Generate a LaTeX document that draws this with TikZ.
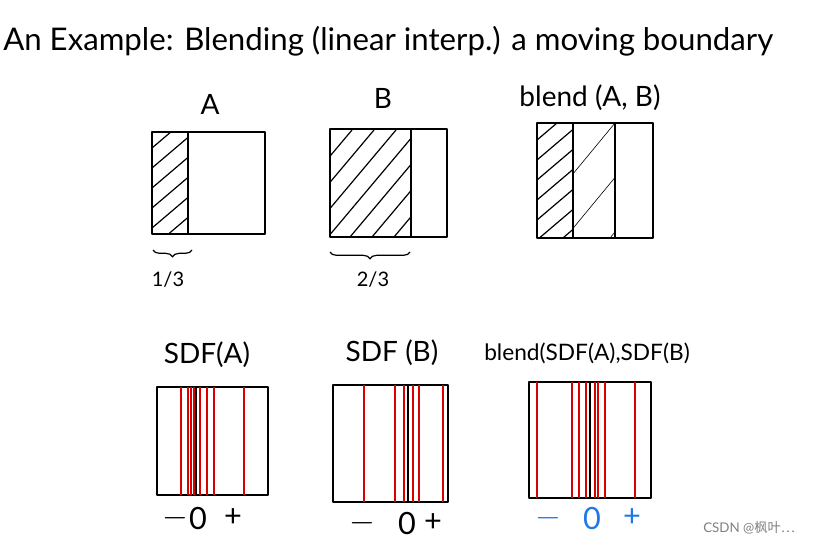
\documentclass[tikz,border=0pt]{standalone}
\usepackage{fontspec}
\setmainfont{Lato}
\newfontfamily\cjkfont{Noto Sans CJK SC}
\usetikzlibrary{positioning,decorations.pathreplacing}

\begin{document}
\begin{tikzpicture}[x=0.75pt,y=-0.75pt,
  lbl/.style={font=\fontsize{21}{24}\selectfont, inner sep=1pt},
  frac/.style={font=\fontsize{15}{17}\selectfont, inner sep=1pt},
  sgn/.style={font=\fontsize{23}{26}\selectfont, inner sep=1pt},
  frame/.style={draw=black, line width=1.5pt, line join=round},
  hatch/.style={draw=black, line width=0.9pt},
  lighthatch/.style={draw=black, line width=0.45pt},
  isoline/.style={draw=red!85!black, line width=1.1pt},
  zeroline/.style={draw=black, line width=1.4pt},
  brc/.style={decorate, decoration={brace, amplitude=5pt}, line width=0.9pt}
]
\useasboundingbox (0,0) rectangle (819,544);

\node[anchor=base west, font=\fontsize{23.4}{28}\selectfont, inner sep=0] (title) at (3,50) {An Example: Blending (linear interp.) a moving boundary};

% top row: shapes
\begin{scope}
  \clip (152,132) rectangle (188,234);
  \foreach \y in {148,168,...,268} \draw[hatch] (152,\y) -- ++(40,-34);
\end{scope}
\draw[frame] (152,132) rectangle (265,234);
\draw[frame] (188,132) -- (188,234);
\node[lbl] (labA) at (210,104) {A};
\draw[brc] (192,250) -- (153,250);
\node[frac] (thirdA) at (168,280) {1/3};

\begin{scope}
  \clip (330,129) rectangle (411,237);
  \foreach \x in {262,284,...,416} \draw[hatch] (\x,237) -- ++(90,-107);
\end{scope}
\draw[frame] (330,129) rectangle (447,237);
\draw[frame] (411,129) -- (411,237);
\node[lbl] (labB) at (383,98) {B};
\draw[brc] (410,252) -- (330,252);
\node[frac] (thirdB) at (373,280) {2/3};

\begin{scope}
  \clip (537,123) rectangle (573,238);
  \foreach \y in {140,160,...,270} \draw[hatch] (537,\y) -- ++(40,-34);
\end{scope}
\begin{scope}
  \clip (573,123) rectangle (615,238);
  \foreach \x in {520,565,610} \draw[lighthatch] (\x,238) -- ++(95,-115);
\end{scope}
\draw[frame] (537,123) rectangle (653,238);
\draw[frame] (573,123) -- (573,238);
\draw[frame] (615,123) -- (615,238);
\node[lbl] (labAB) at (590,98) {blend (A, B)};

% bottom row: distance fields
\draw[frame] (157,387) rectangle (268,495);
\foreach \x in {181,188,191,194,200,207,214,244} \draw[isoline] (\x,387) -- (\x,495);
\draw[zeroline] (196,387) -- (196,495);
\node[lbl] (labSA) at (207,355) {SDF(A)};
\node[sgn] (mA) at (175,518) {$-$};
\node[sgn] (zA) at (198,518) {0};
\node[sgn] (pA) at (233,518) {+};

\draw[frame] (333,385) rectangle (448,502);
\foreach \x in {364,395,404,413,419,443} \draw[isoline] (\x,385) -- (\x,502);
\draw[zeroline] (408,385) -- (408,502);
\node[lbl] (labSB) at (392,353) {SDF (B)};
\node[sgn] (mB) at (362,523) {$-$};
\node[sgn] (zB) at (407,523) {0};
\node[sgn] (pB) at (433,523) {+};

\draw[frame] (529,382) rectangle (651,498);
\foreach \x in {537,572,579,586,595,598,605,635} \draw[isoline] (\x,382) -- (\x,498);
\draw[zeroline] (590,382) -- (590,498);
\node[lbl, font=\fontsize{17}{20}\selectfont] (labSAB) at (587,353) {blend(SDF(A),SDF(B)};
\node[sgn, text={rgb,255:red,30;green,120;blue,230}] (mAB) at (548,518) {$-$};
\node[sgn, text={rgb,255:red,30;green,120;blue,230}] (zAB) at (592,518) {0};
\node[sgn, text={rgb,255:red,30;green,120;blue,230}] (pAB) at (632,518) {+};

\node[font=\fontsize{10}{12}\selectfont, text=gray, anchor=west, inner sep=0] (mark) at (703,528) {CSDN @\cjkfont 枫叶…};
\end{tikzpicture}
\end{document}
